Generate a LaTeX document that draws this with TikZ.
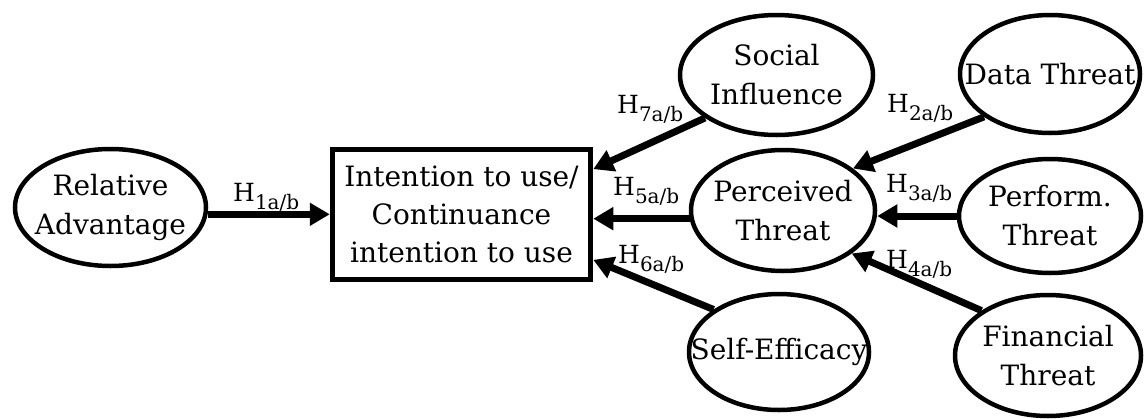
\documentclass[tikz,border=0pt]{standalone}
\usepackage{fontspec}
\setmainfont{DejaVu Serif}
\usetikzlibrary{shapes.geometric,arrows.meta}
% hypothesis label: H with a lowered subscript
\newcommand{\hyp}[1]{H\raisebox{-8pt}{\fontsize{20}{20}\selectfont #1}}
% zero-width line so the text does not enlarge its shape
\newcommand{\zw}[1]{\makebox[0pt]{#1}}
\begin{document}
\begin{tikzpicture}[x=1pt,y=-1pt,
  construct/.style={ellipse,draw,line width=4.5pt,align=center,inner sep=0pt,
    font=\fontsize{28}{39}\selectfont},
  target/.style={rectangle,draw,line width=5.5pt,align=center,inner sep=0pt,
    font=\fontsize{28}{38}\selectfont},
  link/.style={line width=7pt,-{Triangle[length=20pt,width=22pt]}},
  hlabel/.style={anchor=base west,inner sep=0pt,font=\fontsize{25}{30}\selectfont}]
\useasboundingbox (0,0) rectangle (1145,418);

% central construct
\node[target,minimum width=258pt,minimum height=130pt] (box) at (461.5,214.5)
  {\zw{Intention to use/}\\\zw{Continuance}\\\zw{intention to use}};

% antecedents
\node[construct,minimum width=191pt,minimum height=117pt] (ra) at (110.5,207.5)
  {\zw{Relative}\\\zw{Advantage}};
\node[construct,minimum width=193pt,minimum height=120pt] (si) at (776.5,75)
  {\zw{Social}\\\zw{Influence}};
\node[construct,minimum width=184pt,minimum height=121pt] (pt) at (783,210.5)
  {\zw{Perceived}\\\zw{Threat}};
\node[construct,minimum width=180pt,minimum height=116pt] (se) at (779,352)
  {\zw{Self-Efficacy}};
\node[construct,minimum width=180pt,minimum height=118pt] (dt) at (1050,74)
  {\zw{Data Threat}};
\node[construct,minimum width=182pt,minimum height=114pt] (pf) at (1050,216)
  {\zw{Perform.}\\\zw{Threat}};
\node[construct,minimum width=186pt,minimum height=121pt] (ft) at (1048,355.5)
  {\zw{Financial}\\\zw{Threat}};

% paths
\draw[link] (ra.-4) -- (ra.-4 -| box.west);
\draw[link] (si.211.5) -- (box.19.3);
\draw[link] (pt.185) -- (pt.185 -| box.east);
\draw[link] (se.147.2) -- (box.-19.3);
\draw[link] (dt.213.3) -- (pt.31);
\draw[link] (pf.180.5) -- (pf.180.5 -| pt.east);
\draw[link] (ft.146.2) -- (pt.-32.1);

% hypothesis labels
\node[hlabel] (h1) at (233,201) {\hyp{1a/b}};
\node[hlabel] (h7) at (617,113) {\hyp{7a/b}};
\node[hlabel] (h5) at (613,195) {\hyp{5a/b}};
\node[hlabel] (h6) at (618,263) {\hyp{6a/b}};
\node[hlabel] (h2) at (887,112) {\hyp{2a/b}};
\node[hlabel] (h3) at (886,192) {\hyp{3a/b}};
\node[hlabel] (h4) at (886,268) {\hyp{4a/b}};
\end{tikzpicture}
\end{document}
